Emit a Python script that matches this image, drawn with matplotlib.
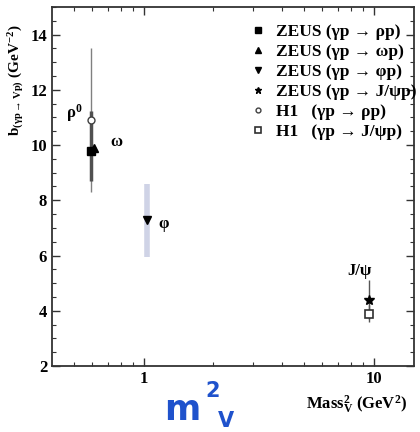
import numpy as np
import matplotlib
matplotlib.use("Agg")
import matplotlib.pyplot as plt
from matplotlib.ticker import FixedLocator, MultipleLocator, NullFormatter, FixedFormatter

plt.rcParams['font.family'] = ['Liberation Serif', 'DejaVu Serif']
plt.rcParams['font.weight'] = 'bold'
plt.rcParams['mathtext.fontset'] = 'custom'
plt.rcParams['mathtext.rm'] = 'Liberation Serif:bold'
plt.rcParams['mathtext.it'] = 'Liberation Serif:bold'
plt.rcParams['mathtext.default'] = 'rm'

# Slope parameter b vs. squared vector-meson mass
zeus_rho_m2 = [0.593]
zeus_rho_b = [9.8]
zeus_rho_err_lo = [1.1]
zeus_rho_err_hi = [1.45]

zeus_omega_m2 = [0.612]
zeus_omega_b = [9.9]

zeus_phi_m2 = [1.04]
zeus_phi_b = [7.3]
zeus_phi_err_lo = [1.35]
zeus_phi_err_hi = [1.3]

zeus_jpsi_m2 = [9.59]
zeus_jpsi_b = [4.4]
zeus_jpsi_err = [0.7]

h1_rho_m2 = [0.593]
h1_rho_b = [10.9]
h1_rho_err = [2.6]

h1_jpsi_m2 = [9.59]
h1_jpsi_b = [3.9]
h1_jpsi_err = [0.3]

y_ticks = [2, 4, 6, 8, 10, 12, 14]
x_ticks = [1, 10]
x_ticklabels = ['1', '10']

meson_labels = ['ρ$^0$', 'ω', 'φ', 'J/ψ']
meson_label_x = [0.50, 0.76, 1.22, 8.7]
meson_label_y = [11.15, 10.1, 7.15, 5.45]

legend_labels = ['ZEUS (γp → ρp)', 'ZEUS (γp → ωp)', 'ZEUS (γp → φp)',
                 'ZEUS (γp → J/ψp)', 'H1   (γp → ρp)', 'H1   (γp → J/ψp)']

fig = plt.figure(figsize=(4.2, 4.32), dpi=100)
ax = fig.add_axes([52/420, 1-366/432, (414-52)/420, (366-7)/432])
ax.set_xscale('log')
ax.set_xlim(0.4, 15)
ax.set_ylim(2, 15)

# error bars
ax.errorbar(h1_rho_m2, h1_rho_b, yerr=h1_rho_err, fmt='none', ecolor='#808080',
            elinewidth=1.0, capsize=0, zorder=2)
ax.errorbar(zeus_rho_m2, zeus_rho_b, yerr=[zeus_rho_err_lo, zeus_rho_err_hi], fmt='none',
            ecolor='#505050', elinewidth=2.5, capsize=0, zorder=2)
ax.errorbar(zeus_phi_m2, zeus_phi_b, yerr=[zeus_phi_err_lo, zeus_phi_err_hi], fmt='none',
            ecolor='#cfd3e6', elinewidth=4, capsize=0, zorder=2)
ax.errorbar(zeus_jpsi_m2, zeus_jpsi_b, yerr=zeus_jpsi_err, fmt='none', ecolor='#555555',
            elinewidth=1.0, capsize=0, zorder=2)
ax.errorbar(h1_jpsi_m2, h1_jpsi_b, yerr=h1_jpsi_err, fmt='none', ecolor='#555555',
            elinewidth=1.0, capsize=0, zorder=2)

h_rho, = ax.plot(zeus_rho_m2, zeus_rho_b, 's', color='black', ms=6, zorder=4)
h_omega, = ax.plot(zeus_omega_m2, zeus_omega_b, '^', color='black', ms=6, zorder=4)
h_phi, = ax.plot(zeus_phi_m2, zeus_phi_b, 'v', color='black', ms=6, zorder=4)
h_jpsi, = ax.plot(zeus_jpsi_m2, zeus_jpsi_b, '*', color='black', ms=7, zorder=4)
h_h1rho, = ax.plot(h1_rho_m2, h1_rho_b, 'o', mfc='white', mec='#404040', mew=1.0, ms=5, zorder=5)
h_h1jpsi, = ax.plot(h1_jpsi_m2, h1_jpsi_b, 's', mfc='white', mec='#303030', mew=1.2, ms=6, zorder=5)

for lab, lx, ly in zip(meson_labels, meson_label_x, meson_label_y):
    ax.text(lx, ly, lab, fontsize=12, fontweight='bold', ha='center', va='center')

ax.legend([h_rho, h_omega, h_phi, h_jpsi, h_h1rho, h_h1jpsi], legend_labels,
          loc='upper right', bbox_to_anchor=(1.035, 0.982), frameon=False,
          prop={'family': ['Liberation Serif', 'DejaVu Serif'], 'weight': 'bold', 'size': 12.5},
          handlelength=0.6, handletextpad=0.7, labelspacing=0.22, markerscale=0.7,
          borderaxespad=0.2)

# ticks
ax.xaxis.set_major_locator(FixedLocator(x_ticks))
ax.xaxis.set_major_formatter(FixedFormatter(x_ticklabels))
ax.xaxis.set_minor_locator(FixedLocator([0.5, 0.6, 0.7, 0.8, 0.9, 2, 3, 4, 5, 6, 7, 8, 9]))
ax.xaxis.set_minor_formatter(NullFormatter())
ax.yaxis.set_major_locator(FixedLocator(y_ticks))
ax.yaxis.set_minor_locator(MultipleLocator(0.5))
ax.tick_params(which='both', direction='in', top=True, right=True, color='#333333')
ax.tick_params(which='major', length=6, width=1.0, labelsize=12)
ax.tick_params(which='minor', length=3, width=0.8)
for lbl in ax.get_xticklabels() + ax.get_yticklabels():
    lbl.set_fontweight('bold')
for sp in ax.spines.values():
    sp.set_linewidth(1.3)
    sp.set_color('#333333')

fig.text(16/420, 1-80/432, r'b$_{(γp\rightarrow Vp)}$ (GeV$^{-2}$)', rotation=90,
         ha='center', va='center', fontsize=11, fontweight='bold')
fig.text(357/420, 1-405/432, r'Mass$_V^2$ (GeV$^2$)', ha='center', va='center',
         fontsize=12, fontweight='bold')

# handwritten-style annotation below the axis
blue = '#1f52cc'
fig.text(182/420, 1-420/432, 'm', fontsize=25, color=blue, ha='center', va='baseline',
         family='DejaVu Sans', fontweight='bold')
fig.text(213/420, 1-391/432, '2', fontsize=15, color=blue, ha='center', va='center',
         family='DejaVu Sans', fontweight='bold')
fig.text(226/420, 1-431/432, 'V', fontsize=15, color=blue, ha='center', va='bottom',
         family='DejaVu Sans', fontweight='bold')

fig.savefig('out.png', dpi=100)
